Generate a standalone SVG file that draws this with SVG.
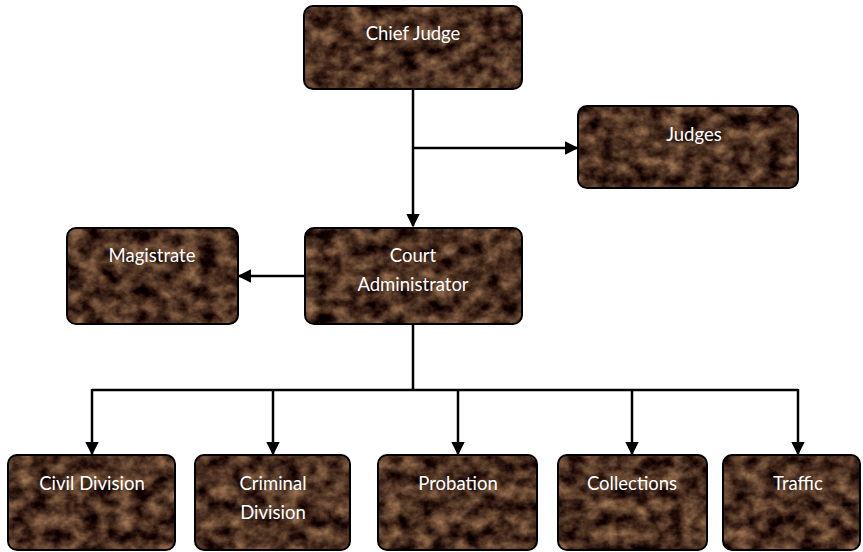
<svg xmlns="http://www.w3.org/2000/svg" width="863" height="552" viewBox="0 0 863 552">
<style>
.tex{fill:#000;filter:url(#marble)}
.frame{fill:none;stroke:#000;stroke-width:2}
.lbl{fill:#fff;font-family:Lato,"Open Sans","Liberation Sans",sans-serif;font-size:18.5px;text-anchor:middle}
.conn{fill:none;stroke:#000;stroke-width:2.5}
</style>
<defs>
<filter id="marble" x="0" y="0" width="1" height="1" color-interpolation-filters="sRGB">
<feTurbulence type="fractalNoise" baseFrequency="0.06 0.07" numOctaves="5" seed="11" result="n"/>
<feColorMatrix in="n" type="matrix" values="0.85 0 0 0 -0.13  0.7 0 0 0 -0.16  0.5 0 0 0 -0.12  0 0 0 0 1" result="c"/>
<feComposite in="c" in2="SourceGraphic" operator="in"/>
</filter>
<marker id="arrow" viewBox="0 0 10 10" refX="9" refY="5" markerWidth="5.5" markerHeight="5.5" orient="auto">
<path d="M0,0 L10,5 L0,10 Z" fill="#000"/>
</marker>
</defs>

<g id="connectors">
<path class="conn" d="M413,89 V226" marker-end="url(#arrow)"/>
<path class="conn" d="M413,148 H577" marker-end="url(#arrow)"/>
<path class="conn" d="M305,276 H239" marker-end="url(#arrow)"/>
<path class="conn" d="M413,324 V390"/>
<path class="conn" d="M92,390 H798"/>
<path class="conn" d="M92,389 V454" marker-end="url(#arrow)"/>
<path class="conn" d="M273,389 V454" marker-end="url(#arrow)"/>
<path class="conn" d="M458,389 V454" marker-end="url(#arrow)"/>
<path class="conn" d="M632,389 V454" marker-end="url(#arrow)"/>
<path class="conn" d="M798,389 V454" marker-end="url(#arrow)"/>
</g>

<g id="chief-judge">
<rect class="tex" x="304" y="6" width="218" height="83" rx="9"/>
<rect class="frame" x="304" y="6" width="218" height="83" rx="9"/>
<text class="lbl" x="413" y="40">Chief Judge</text>
</g>

<g id="judges">
<rect class="tex" x="578" y="106" width="220" height="82" rx="9"/>
<rect class="frame" x="578" y="106" width="220" height="82" rx="9"/>
<text class="lbl" x="694" y="141">Judges</text>
</g>

<g id="magistrate">
<rect class="tex" x="67" y="228" width="171" height="96" rx="9"/>
<rect class="frame" x="67" y="228" width="171" height="96" rx="9"/>
<text class="lbl" x="152" y="262">Magistrate</text>
</g>

<g id="court-administrator">
<rect class="tex" x="305" y="228" width="217" height="96" rx="9"/>
<rect class="frame" x="305" y="228" width="217" height="96" rx="9"/>
<text class="lbl" x="413" y="262">Court</text>
<text class="lbl" x="413" y="291">Administrator</text>
</g>

<g id="civil-division">
<rect class="tex" x="8" y="455" width="167" height="95" rx="9"/>
<rect class="frame" x="8" y="455" width="167" height="95" rx="9"/>
<text class="lbl" x="92" y="490">Civil Division</text>
</g>

<g id="criminal-division">
<rect class="tex" x="195" y="455" width="155" height="95" rx="9"/>
<rect class="frame" x="195" y="455" width="155" height="95" rx="9"/>
<text class="lbl" x="273" y="490">Criminal</text>
<text class="lbl" x="273" y="519">Division</text>
</g>

<g id="probation">
<rect class="tex" x="378" y="455" width="159" height="95" rx="9"/>
<rect class="frame" x="378" y="455" width="159" height="95" rx="9"/>
<text class="lbl" x="458" y="490">Probation</text>
</g>

<g id="collections">
<rect class="tex" x="558" y="455" width="149" height="95" rx="9"/>
<rect class="frame" x="558" y="455" width="149" height="95" rx="9"/>
<text class="lbl" x="632" y="490">Collections</text>
</g>

<g id="traffic">
<rect class="tex" x="723" y="455" width="137" height="95" rx="9"/>
<rect class="frame" x="723" y="455" width="137" height="95" rx="9"/>
<text class="lbl" x="798" y="490">Traffic</text>
</g>
</svg>
